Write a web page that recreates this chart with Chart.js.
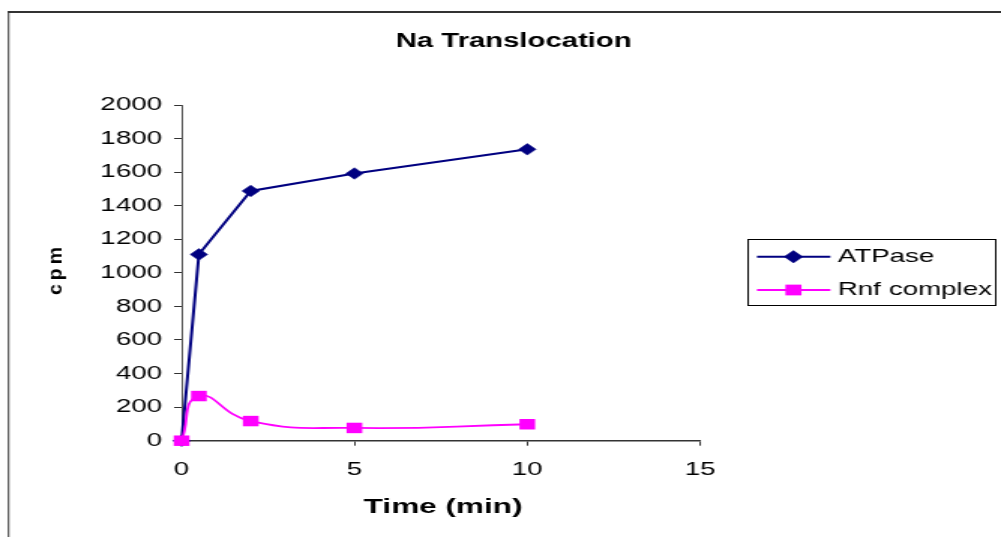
<!DOCTYPE html>
<html>
<head>
<meta charset="utf-8">
<title>Na Translocation</title>
<script src="https://cdn.jsdelivr.net/npm/chart.js@4.4.1/dist/chart.umd.min.js"></script>
<style>
  html, body { margin: 0; padding: 0; background: #fff; overflow: hidden; }
</style>
</head>
<body>
<!-- drawn on a narrower canvas and widened by CSS, giving the wide Excel-style lettering -->
<canvas id="c" width="667" height="537" style="display:block;width:1001px;height:537px"></canvas>
<script>
// ---- data ----
const timeMin    = [0, 0.5, 2, 5, 10];
const atpaseCpm  = [0, 1110, 1488, 1592, 1736];
const rnfCpm     = [0, 266, 117, 76, 98];
const seriesNames = ['ATPase', 'Rnf complex'];
const chartTitle = 'Na Translocation';
const xAxisTitle = 'Time (min)';
const yAxisTitle = 'cpm';
const xTickRange = [0, 15, 5];      // min, max, step
const yTickRange = [0, 2000, 200];  // min, max, step

// ---- layout ----
const FONT = '"Liberation Sans", Arial, Helvetica, sans-serif';
const CANVAS_W = 667, CANVAS_H = 537;
const PLOT = { left: 121, right: 466.5, top: 105, bottom: 440.7 };
const X_AXIS_H = 60;

const toPoints = (xs, ys) => xs.map((x, i) => ({ x: x, y: ys[i] }));

// frame, title, axis titles and legend box
const decorations = {
  id: 'decorations',
  afterDraw(chart) {
    const ctx = chart.ctx;
    const area = chart.chartArea;
    ctx.save();

    // outer frame (top and left edges)
    ctx.fillStyle = '#333';
    ctx.fillRect(5.2, 11, CANVAS_W, 2);
    ctx.fillRect(5.2, 11, 1, CANVAS_H);

    // title
    ctx.fillStyle = '#000';
    ctx.font = 'bold 19.5px ' + FONT;
    ctx.textAlign = 'center';
    ctx.textBaseline = 'alphabetic';
    ctx.fillText(chartTitle, 342.3, 46.7);

    // x axis title
    ctx.font = 'bold 21px ' + FONT;
    ctx.fillText(xAxisTitle, (area.left + area.right) / 2 + 1.5, 513);

    // y axis title: rotated, letters spaced out, compressed across so it
    // keeps its shape once the canvas is widened
    ctx.save();
    ctx.setTransform(0, -1, 1 / 1.5, 0, 41.2, 271);
    ctx.font = 'bold 19.5px ' + FONT;
    ctx.textAlign = 'left';
    ctx.textBaseline = 'alphabetic';
    const gap = 4;
    const total = ctx.measureText(yAxisTitle).width + gap * (yAxisTitle.length - 1);
    let pos = -total / 2;
    for (const ch of yAxisTitle) {
      ctx.fillText(ch, pos, 0);
      pos += ctx.measureText(ch).width + gap;
    }
    ctx.restore();

    // legend
    ctx.strokeStyle = '#000';
    ctx.lineWidth = 1;
    ctx.strokeRect(498.5, 239.5, 165, 66);
    const rows = [
      { ds: chart.data.datasets[1], lineY: 256.7, textY: 261.7, r: 6.2 },
      { ds: chart.data.datasets[0], lineY: 290, textY: 295, r: 7.6 }
    ];
    rows.forEach(row => {
      const ds = row.ds;
      ctx.strokeStyle = ds.borderColor;
      ctx.lineWidth = ds.borderWidth;
      ctx.beginPath();
      ctx.moveTo(504.4, row.lineY);
      ctx.lineTo(553.3, row.lineY);
      ctx.stroke();
      ctx.fillStyle = ds.pointBackgroundColor;
      ctx.strokeStyle = ds.pointBorderColor;
      ctx.lineWidth = ds.pointBorderWidth;
      Chart.helpers.drawPoint(ctx, {
        pointStyle: ds.pointStyle, radius: row.r, rotation: 0,
        borderWidth: ds.pointBorderWidth
      }, 528.7, row.lineY);
      ctx.fillStyle = '#000';
      ctx.font = '18.5px ' + FONT;
      ctx.textAlign = 'left';
      ctx.textBaseline = 'alphabetic';
      ctx.fillText(ds.label, 558.2, row.textY);
    });

    ctx.restore();
  }
};

new Chart(document.getElementById('c'), {
  type: 'scatter',
  data: {
    datasets: [
      {
        label: seriesNames[1],
        data: toPoints(timeMin, rnfCpm),
        showLine: true,
        order: 0,
        clip: false,
        borderColor: '#FF00FF',
        backgroundColor: '#FF00FF',
        borderWidth: 1.8,
        tension: 0.5,
        pointStyle: 'rect',
        pointRadius: 7.4,
        pointHoverRadius: 7.4,
        pointBackgroundColor: '#FF00FF',
        pointBorderColor: '#FF00FF',
        pointBorderWidth: 0
      },
      {
        label: seriesNames[0],
        data: toPoints(timeMin, atpaseCpm),
        showLine: true,
        order: 1,
        clip: false,
        borderColor: '#000080',
        backgroundColor: '#000080',
        borderWidth: 2,
        tension: 0,
        pointStyle: 'rectRot',
        pointRadius: 5.8,
        pointHoverRadius: 5.8,
        pointBackgroundColor: '#000080',
        pointBorderColor: '#000080',
        pointBorderWidth: 0.5
      }
    ]
  },
  options: {
    responsive: false,
    devicePixelRatio: 1,
    animation: false,
    events: [],
    layout: {
      padding: {
        left: 0,
        right: CANVAS_W - PLOT.right,
        top: PLOT.top,
        bottom: CANVAS_H - PLOT.bottom - X_AXIS_H
      }
    },
    plugins: {
      legend: { display: false },
      title: { display: false },
      tooltip: { enabled: false }
    },
    scales: {
      x: {
        type: 'linear',
        min: xTickRange[0],
        max: xTickRange[1],
        afterFit(scale) { scale.height = X_AXIS_H; },
        ticks: {
          stepSize: xTickRange[2],
          color: '#000',
          font: { family: FONT, size: 18.5 },
          padding: 13,
          maxRotation: 0,
          callback: v => String(v)
        },
        grid: { drawOnChartArea: false, drawTicks: true, tickLength: 5, color: '#333', lineWidth: 1 },
        border: { display: true, color: '#333', width: 1.5 }
      },
      y: {
        type: 'linear',
        min: yTickRange[0],
        max: yTickRange[1],
        afterFit(scale) { scale.width = PLOT.left; },
        ticks: {
          stepSize: yTickRange[2],
          color: '#000',
          font: { family: FONT, size: 18.5 },
          padding: 8,
          callback: v => String(v)
        },
        grid: { drawOnChartArea: false, drawTicks: true, tickLength: 5, color: '#333', lineWidth: 1 },
        border: { display: true, color: '#555', width: 1 }
      }
    }
  },
  plugins: [decorations]
});
</script>
</body>
</html>
